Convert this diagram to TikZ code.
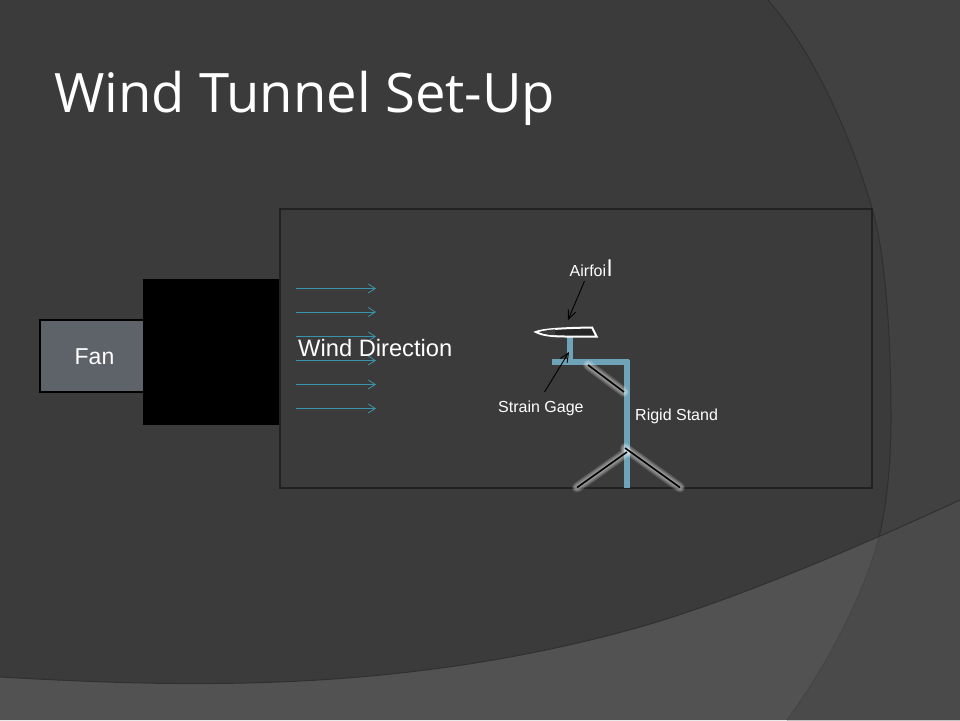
\documentclass[tikz,border=0pt]{standalone}
\usepackage{fontspec}
\setmainfont{Liberation Sans}
\newfontfamily\titlefont{Open Sans}
\usetikzlibrary{arrows.meta}
\definecolor{bgmain}{HTML}{3B3B3B}
\definecolor{bgside}{HTML}{414141}
\definecolor{bgbottom}{HTML}{525252}
\definecolor{bgcorner}{HTML}{4A4A4A}
\definecolor{edgeline}{HTML}{303030}
\definecolor{steel}{HTML}{6FA3B8}
\definecolor{windblue}{HTML}{3A93AB}
\definecolor{fanfill}{HTML}{5E6269}
\definecolor{boxline}{HTML}{222222}
\definecolor{foildark}{HTML}{262626}
\def\sideupper{(768,0) .. controls (820,60) and (855,150) .. (872,208) .. controls (886,256) and (891,340) .. (891,420) .. controls (891,460) and (887,505) .. (879,537)}
\def\sidelower{.. controls (868,581) and (835,655) .. (787,720)}
\def\bottompath{(0,677) .. controls (70,681) and (140,684) .. (208,683.5) .. controls (330,683) and (480,672) .. (640,627) .. controls (720,604) and (830,560) .. (960,500)}
\tikzset{
  lbl/.style={text=white,inner sep=0pt,font=\fontsize{16}{18}\selectfont},
  biglbl/.style={text=white,inner sep=0pt,font=\fontsize{23.7}{26}\selectfont},
  wind/.style={draw=windblue,line width=0.8pt,-{Straight Barb[length=7pt,width=9pt,line width=0.8pt]}},
  bar/.style={draw=steel,line width=6pt},
  brace/.style={draw=black,line width=1.6pt},
  glow/.style={draw=white,opacity=0.14,line cap=round},
  pointer/.style={draw=black,line width=0.9pt,-{Straight Barb[length=9pt,width=8pt,line width=0.9pt]}}
}
\begin{document}
\begin{tikzpicture}[x=1pt,y=-1pt]
\useasboundingbox (0,0) rectangle (960,720);
\fill[bgmain] (0,0) rectangle (960,720);
% side sweep
\fill[bgside] \sideupper \sidelower -- (960,720) -- (960,0) -- cycle;
\draw[edgeline,line width=1pt] \sideupper;
% bottom sweep
\fill[bgbottom] \bottompath -- (960,720) -- (0,720) -- cycle;
\begin{scope}
\clip \sideupper \sidelower -- (960,720) -- (960,0) -- cycle;
\fill[bgcorner] \bottompath -- (960,720) -- (0,720) -- cycle;
\end{scope}
\draw[edgeline,line width=1pt] \bottompath;
\draw[bgmain!55!bgbottom,line width=1pt] (879,537) \sidelower;
% title
\node[text=white,anchor=base west,inner sep=0pt,font=\titlefont\fontsize{54.4}{56}\selectfont] (title) at (54,112) {Wind Tunnel Set-Up};
% tunnel
\node[draw=boxline,line width=2pt,minimum width=592pt,minimum height=279pt,inner sep=0pt,anchor=north west] (tunnel) at (279,207.5) {};
\node[draw=black,line width=2.4pt,fill=fanfill,minimum width=110pt,minimum height=72pt,inner sep=0pt,anchor=north west] (fan) at (39,319) {};
\node[text=white,inner sep=0pt,font=\fontsize{23}{25}\selectfont] (fanlabel) at (94.5,357) {Fan};
\node[fill=black,minimum width=136pt,minimum height=146pt,inner sep=0pt,anchor=north west] (duct) at (143,279) {};
% wind arrows
\foreach \i/\y in {a/288.5,b/312,c/336.5,d/360.5,e/384.5,f/408.5}{
  \coordinate (s\i) at (296,\y);
  \coordinate (t\i) at (376,\y);
  \draw[wind] (s\i) -- (t\i);
}
\node[biglbl,anchor=base west] (windlabel) at (298,356) {Wind Direction};
% stand
\coordinate (armL) at (552,362);
\coordinate (armR) at (629,362);
\coordinate (base) at (626.7,488);
\coordinate (post) at (570,337);
\coordinate (postB) at (570,362);
\draw[bar] (post) -- (postB);
\draw[bar] (armL) -- (armR);
\draw[bar] (626.7,359.5) -- (base);
% braces
\coordinate (b1) at (588,365);
\coordinate (b2) at (624,392);
\coordinate (f0) at (627,452);
\coordinate (f1) at (577,487.5);
\coordinate (f2) at (680,487.5);
\coordinate (f3) at (625,448);
\foreach \p/\q in {b1/b2,f0/f1,f3/f2}{
  \draw[glow,line width=10pt] (\p) -- (\q);
  \draw[glow,line width=8pt] (\p) -- (\q);
  \draw[glow,line width=6pt] (\p) -- (\q);
  \draw[glow,line width=4pt] (\p) -- (\q);
}
\foreach \p/\q in {b1/b2,f0/f1,f3/f2}{
  \draw[brace] (\p) -- (\q);
}
% airfoil
\draw[draw=white,fill=foildark,line width=2pt] (536,332) .. controls (542,329.5) and (560,328) .. (592,327.5) -- (596.5,336.5) -- (565,336.5) .. controls (552,336.5) and (541,335) .. (536,332) -- cycle;
\fill[bgmain] (539,332) .. controls (544,330.5) and (550,329.8) .. (555,329.3) -- (555,335.3) .. controls (549,335) and (543,334) .. (539,332) -- cycle;
% labels
\node[lbl,anchor=base west] (airfoil) at (569.5,276) {Airfoi\kern1pt\fontsize{23}{23}\selectfont l};
\node[lbl,anchor=base west] (gage) at (498,412) {Strain Gage};
\node[lbl,anchor=base west] (rigid) at (635,420) {Rigid Stand};
\coordinate (airtip) at (568,320);
\coordinate (airtail) at (584.5,281);
\coordinate (gagetip) at (569,352);
\coordinate (gagetail) at (544.5,392);
\draw[pointer] (airtail) -- (airtip);
\draw[pointer] (gagetail) -- (gagetip);
\end{tikzpicture}
\end{document}
